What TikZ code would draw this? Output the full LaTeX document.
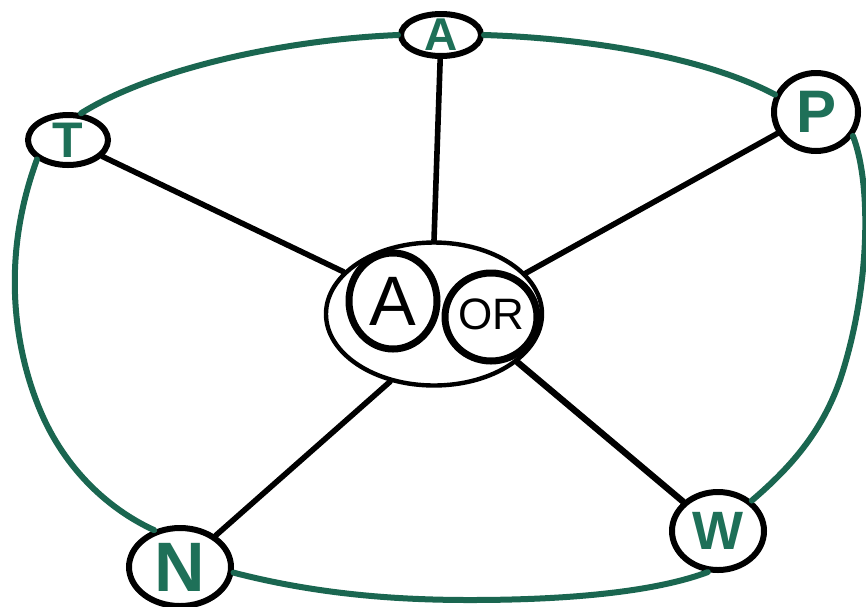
\documentclass[tikz,border=0pt]{standalone}
\usepackage{fontspec}
\setmainfont{Liberation Sans}
\usetikzlibrary{shapes.geometric}
\definecolor{loopgreen}{HTML}{1A6650}
\definecolor{lettergreen}{HTML}{1E7058}
\tikzset{
  ring/.style={draw=black, line width=6pt, ellipse, inner sep=0pt},
  hub/.style={draw=black, line width=4.4pt, ellipse, inner sep=0pt},
  inner/.style={draw=black, line width=7pt, ellipse, inner sep=0pt},
  greentag/.style={inner sep=0pt, text=lettergreen, font=\bfseries},
  blacktag/.style={inner sep=0pt, text=black},
  spoke/.style={draw=black, line width=5.6pt, line cap=round},
  rim/.style={draw=loopgreen, line width=6pt, line cap=round},
}
\newcommand{\lsz}[1]{\fontsize{#1}{#1}\selectfont}
\begin{document}
\begin{tikzpicture}[x=1pt, y=-1pt]
  \useasboundingbox[fill=white] (0,0) rectangle (866,606);

  % outer nodes: ring, then its letter
  \node[ring, minimum width=80pt, minimum height=42pt] (a) at (441,35) {};
  \node[ring, minimum width=84pt, minimum height=78pt] (p) at (816,112) {};
  \node[ring, minimum width=80pt, minimum height=50pt] (t) at (68,140) {};
  \node[ring, minimum width=102pt, minimum height=78pt] (n) at (180,567) {};
  \node[ring, minimum width=92pt, minimum height=78pt] (w) at (718,531) {};
  \node[greentag] (alabel) at (a) {\lsz{46}A};
  \node[greentag] (plabel) at (p) {\lsz{60}P};
  \node[greentag] (tlabel) at (t) {\lsz{50}T};
  \node[greentag] (nlabel) at (n) {\lsz{70}N};
  \node[greentag] (wlabel) at (w) {\lsz{54}W};

  % green rim joining the outer nodes
  \draw[rim] (a.180) .. controls (280,40) and (150,70) .. (t.64);
  \draw[rim] (a.0) .. controls (580,38) and (700,55) .. (p.157);
  \draw[rim] (p.-33) .. controls (872,185) and (870,290) .. (840,380)
                     .. controls (822,432) and (790,468) .. (w.42);
  \draw[rim] (w.256) .. controls (660,590) and (580,600) .. (470,600)
                     .. controls (400,600) and (320,595) .. (n.-6);
  \draw[rim] (n.125) .. controls (110,510) and (65,470) .. (40,410)
                     .. controls (15,350) and (0,260) .. (t.212);

  % central hub with its two circles
  \node[hub, minimum width=216pt, minimum height=143pt] (hub) at (434,314) {};
  \node[inner, minimum width=88pt, minimum height=96pt] (ina) at (393,301) {};
  \node[inner, minimum width=92pt, minimum height=88pt] (inor) at (491,317) {};
  \node[blacktag] (inalabel) at (ina) {\lsz{70}A};
  \node[blacktag] (inorlabel) at ([yshift=3pt]inor.center) {\lsz{44}OR};

  % spokes into the hub
  \draw[spoke] (a) -- (hub.90);
  \draw[spoke] (t) -- (hub.155);
  \draw[spoke] (p) -- (hub.24);
  \draw[spoke] (n) -- (hub.237);
  \draw[spoke, line width=6.4pt] (w) -- (hub.330);
\end{tikzpicture}
\end{document}
